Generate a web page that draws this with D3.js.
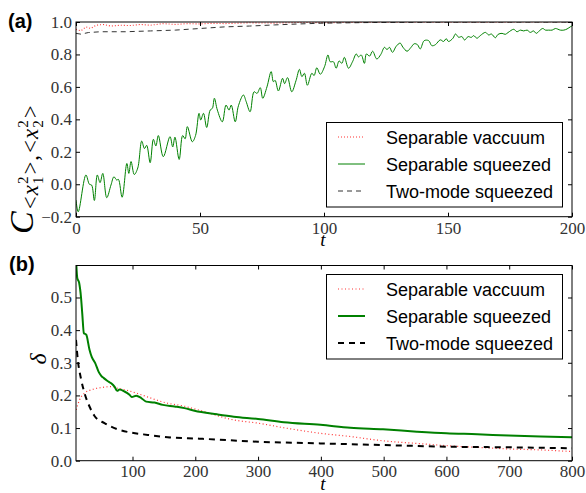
<!DOCTYPE html>
<html>
<head>
<meta charset="utf-8">
<script src="https://cdn.jsdelivr.net/npm/d3@7"></script>
<style>
  body { margin: 0; background: #fff; }
  .lab { font-family: "Liberation Sans", Arial, sans-serif; font-weight: bold; font-size: 20px; }
  .leg { font-family: "Liberation Sans", Arial, sans-serif; font-size: 18px; }
</style>
</head>
<body>
<svg width="586" height="493"></svg>
<script>
// ---- panel (a) data: correlation C vs t ----
var aVacuum = [[0,0.955],[2,0.945],[4,0.97],[6,0.96],[8,0.98],[11,0.985],[14,0.975],[18,0.98],[22,0.978],[26,0.985],[30,0.98],[35,0.99],[40,0.985],[45,0.99],[50,0.988],[55,0.992],[60,0.99],[70,0.995],[80,0.993],[90,0.997],[100,0.996],[120,0.998],[150,0.999],[200,1.0]];
var aTwoMode = [[0,0.93],[2,0.925],[5,0.935],[10,0.94],[20,0.94],[30,0.945],[40,0.95],[50,0.96],[60,0.97],[70,0.975],[80,0.982],[90,0.988],[100,0.993],[120,0.997],[150,0.999],[200,1.0]];
var aSqueezed = [[0,-0.097],[0.9,-0.17],[4.0,0.057],[5.4,0.0],[6.3,-0.005],[7.4,-0.10],[8.6,0.057],[9.7,0.01],[10.8,0.067],[12.4,-0.083],[14.1,-0.005],[15.3,0.046],[16.4,0.026],[17.1,0.03],[18.6,-0.08],[20.5,0.128],[21.3,0.067],[22.2,0.14],[23.5,0.06],[24.9,0.10],[26.5,0.266],[27.6,0.22],[28.5,0.24],[29.9,0.133],[31.2,0.277],[32.2,0.236],[33.2,0.30],[35.2,0.17],[37.9,0.293],[39.0,0.23],[39.9,0.29],[41.6,0.153],[43.0,0.30],[44.0,0.28],[44.9,0.355],[46.9,0.262],[48.2,0.30],[49.6,0.437],[50.3,0.396],[51.4,0.437],[52.7,0.35],[54.1,0.457],[55.0,0.468],[55.8,0.53],[57.0,0.457],[59.0,0.385],[60.5,0.488],[61.7,0.457],[62.6,0.488],[64.2,0.385],[65.5,0.484],[67.5,0.55],[68.6,0.51],[70.2,0.447],[71.8,0.57],[73.0,0.56],[74.3,0.595],[75.3,0.53],[77.0,0.60],[78.7,0.694],[79.6,0.632],[80.3,0.64],[81.6,0.575],[83.3,0.653],[84.1,0.62],[85.3,0.657],[87.0,0.57],[88.7,0.638],[90.1,0.708],[91.1,0.663],[92.1,0.684],[93.3,0.61],[95.1,0.684],[96.0,0.67],[97.1,0.718],[98.5,0.678],[100.2,0.724],[101.6,0.797],[102.5,0.755],[103.8,0.755],[104.9,0.715],[106.1,0.76],[107.2,0.745],[108.2,0.782],[109.9,0.715],[111.5,0.755],[113.0,0.803],[113.9,0.785],[115.0,0.797],[116.3,0.745],[117.1,0.803],[118.4,0.79],[119.6,0.82],[121.3,0.772],[122.9,0.80],[124.4,0.844],[125.4,0.83],[126.4,0.844],[127.6,0.813],[129.1,0.85],[130.7,0.87],[131.8,0.845],[133.5,0.82],[135.1,0.844],[136.4,0.866],[137.7,0.86],[138.8,0.834],[140.4,0.885],[142.2,0.885],[143.5,0.854],[144.9,0.86],[146.9,0.89],[148.2,0.88],[149.3,0.897],[150.2,0.88],[152.0,0.90],[153.0,0.926],[154.3,0.906],[155.6,0.91],[156.7,0.889],[158.1,0.91],[159.4,0.905],[160.3,0.916],[161.7,0.90],[163.0,0.916],[165.1,0.936],[166.4,0.92],[167.5,0.926],[169.1,0.903],[170.2,0.924],[171.8,0.93],[173.1,0.924],[174.2,0.935],[176.5,0.955],[177.8,0.94],[179.2,0.95],[180.5,0.945],[181.9,0.95],[183.2,0.936],[184.5,0.945],[185.6,0.93],[186.8,0.945],[188.2,0.96],[189.3,0.95],[190.6,0.95],[192.0,0.95],[193.3,0.96],[195.3,0.95],[196.7,0.95],[198.0,0.957],[199.4,0.971],[200,0.975]];
var aXTicks = [0, 50, 100, 150, 200];
var aYTicks = [-0.2, 0.0, 0.2, 0.4, 0.6, 0.8, 1.0];

// ---- panel (b) data: delta vs t ----
var bVacuum = [[10.3,0.156],[15.6,0.186],[23.6,0.207],[34.2,0.217],[50,0.224],[66,0.227],[76.6,0.222],[92.5,0.215],[113.9,0.202],[135,0.188],[156,0.176],[177.5,0.169],[204,0.156],[261,0.125],[300,0.115],[341,0.101],[399,0.084],[447,0.074],[499,0.061],[553,0.053],[600,0.046],[649,0.041],[699,0.036],[750,0.033],[800,0.028]];
var bSqueezed = [[10,0.62],[12,0.56],[15,0.545],[18,0.50],[20,0.45],[22.5,0.391],[26.3,0.386],[31.5,0.34],[35.2,0.317],[40.6,0.299],[45.9,0.273],[50.2,0.26],[54.3,0.253],[59.7,0.245],[66.1,0.237],[71.3,0.227],[75.6,0.214],[79.3,0.218],[87.3,0.212],[95.2,0.202],[98.9,0.195],[105.9,0.199],[113.9,0.192],[121.8,0.181],[135,0.178],[148.2,0.171],[166.9,0.166],[182.8,0.161],[198.7,0.153],[234.9,0.142],[261.3,0.135],[300,0.128],[341,0.118],[399.4,0.110],[447,0.101],[499,0.096],[553,0.089],[600,0.084],[649,0.081],[699,0.077],[750,0.074],[800,0.072]];
var bTwoMode = [[10,0.37],[12.9,0.309],[18.3,0.248],[23.6,0.207],[31.5,0.166],[39.5,0.137],[55.4,0.115],[76.6,0.096],[97.9,0.086],[124.4,0.079],[156,0.072],[188,0.069],[212,0.067],[300,0.058],[399,0.053],[499,0.048],[600,0.043],[699,0.041],[800,0.038]];
var bXTicks = [100, 200, 300, 400, 500, 600, 700, 800];
var bYTicks = [0.0, 0.1, 0.2, 0.3, 0.4, 0.5];

var legendNames = ["Separable vaccuum", "Separable squeezed", "Two-mode squeezed"];

var svg = d3.select("svg");
var fmt = d3.format(".1f");
var fmtMinus = function (d) { return fmt(d).replace("-", "\u2212"); };

function styleTicks(sel) {
  sel.selectAll("text")
      .style("font-family", "'Liberation Serif', serif")
      .style("font-size", "17px")
      .style("fill", "#333");
}

function panel(opt) {
  var x = d3.scaleLinear().domain(opt.xd).range([76, 572]);
  var y = d3.scaleLinear().domain(opt.yd).range([opt.bottom, opt.top]);
  var g = svg.append("g");
  var id = "clip" + opt.name;
  svg.append("clipPath").attr("id", id).append("rect")
      .attr("x", 76).attr("y", opt.top).attr("width", 496).attr("height", opt.bottom - opt.top);

  var line = d3.line().x(function (d) { return x(d[0]); }).y(function (d) { return y(d[1]); });
  var plot = g.append("g").attr("clip-path", "url(#" + id + ")");
  opt.series.forEach(function (s) {
    plot.append("path").datum(s.data)
        .attr("d", line.curve(s.curve || d3.curveLinear))
        .attr("fill", "none").attr("stroke", s.color).attr("stroke-width", s.width)
        .attr("stroke-dasharray", s.dash || null);
  });

  // axes, ticks inward on all four sides
  g.append("g").attr("transform", "translate(0," + opt.bottom + ")")
      .call(d3.axisBottom(x).tickValues(opt.xt).tickSizeInner(-4).tickSizeOuter(0).tickPadding(opt.xpad).tickFormat(d3.format("d")))
      .call(styleTicks);
  g.append("g").attr("transform", "translate(0," + opt.top + ")")
      .call(d3.axisTop(x).tickValues(opt.xt).tickSizeInner(-4).tickSizeOuter(0).tickFormat(""));
  g.append("g").attr("transform", "translate(76,0)")
      .call(d3.axisLeft(y).tickValues(opt.yt).tickSizeInner(-4).tickSizeOuter(0).tickPadding(4).tickFormat(fmtMinus))
      .call(styleTicks);
  g.append("g").attr("transform", "translate(572,0)")
      .call(d3.axisRight(y).tickValues(opt.yt).tickSizeInner(-4).tickSizeOuter(0).tickFormat(""));
  g.selectAll(".domain").remove();
  g.append("rect").attr("x", 76).attr("y", opt.top).attr("width", 496).attr("height", opt.bottom - opt.top)
      .attr("fill", "none").attr("stroke", "#000").attr("stroke-width", 1);

  // legend
  var lg = g.append("g");
  lg.append("rect").attr("x", 326.5).attr("y", opt.legTop).attr("width", 236).attr("height", 84.5)
      .attr("fill", "#fff").attr("stroke", "#000").attr("stroke-width", 1);
  opt.series.forEach(function (s, i) {
    var cy = opt.legTop + 14.5 + i * 27;
    lg.append("line").attr("x1", 338).attr("x2", 365).attr("y1", cy).attr("y2", cy)
        .attr("stroke", s.color).attr("stroke-width", s.width).attr("stroke-dasharray", s.dash || null);
    lg.append("text").attr("class", "leg").attr("x", 386).attr("y", cy + 6.5).text(legendNames[i]);
  });

  // x label
  g.append("text").attr("x", 323).attr("y", opt.bottom + 29)
      .attr("text-anchor", "middle").style("font-family", "'Liberation Serif', serif")
      .style("font-style", "italic").style("font-size", "19px").text("t");
  return { x: x, y: y, g: g };
}

var pa = panel({
  name: "a", xd: [0, 200], yd: [-0.2, 1.0], top: 22, bottom: 216.7, xt: aXTicks, yt: aYTicks, legTop: 122.5, xpad: 5,
  series: [
    { data: aVacuum, color: "#ff3333", width: 1.1, dash: "1,2" },
    { data: aSqueezed, color: "#008000", width: 1, curve: d3.curveCatmullRom },
    { data: aTwoMode, color: "#333", width: 1, dash: "5,4" }
  ]
});
var pb = panel({
  name: "b", xd: [10, 800], yd: [0, 0.598], top: 265.5, bottom: 460.7, xt: bXTicks, yt: bYTicks, legTop: 274.5, xpad: 4,
  series: [
    { data: bVacuum, color: "#ff3333", width: 1.2, dash: "1,2.5", curve: d3.curveMonotoneX },
    { data: bSqueezed, color: "#008000", width: 2, curve: d3.curveMonotoneX },
    { data: bTwoMode, color: "#000", width: 2, dash: "6,5", curve: d3.curveMonotoneX }
  ]
});

// panel labels
svg.append("text").attr("class", "lab").attr("x", 8).attr("y", 28).text("(a)");
svg.append("text").attr("class", "lab").attr("x", 9).attr("y", 271).text("(b)");

// y label of (a): C_{<x1^2>,<x2^2>}
var yl = svg.append("text").attr("transform", "translate(33,234) rotate(-90)")
    .style("font-family", "'Liberation Serif', serif");
yl.append("tspan").style("font-style", "italic").style("font-size", "34px").text("C");
var sub = function (txt, dx, dy, size, italic) {
  yl.append("tspan").attr("dx", dx).attr("dy", dy).style("font-size", size + "px")
      .style("font-style", italic ? "italic" : "normal").text(txt);
};
sub("<", 2, 5, 23, false);
sub("x", 1, 0, 23, true);
sub("2", 1, -10, 15, false);
sub("1", -7.5, 15, 15, false);
sub(">", 2, -5, 23, false);
sub(",", 1, 0, 23, false);
sub("<", 2, 0, 23, false);
sub("x", 1, 0, 23, true);
sub("2", 1, -10, 15, false);
sub("2", -7.5, 15, 15, false);
sub(">", 2, -5, 23, false);

svg.append("text").attr("transform", "translate(46,359) rotate(-90)")
    .attr("text-anchor", "middle")
    .style("font-family", "'Liberation Serif', serif").style("font-style", "italic").style("font-size", "24px")
    .text("\u03b4");
</script>
</body>
</html>
